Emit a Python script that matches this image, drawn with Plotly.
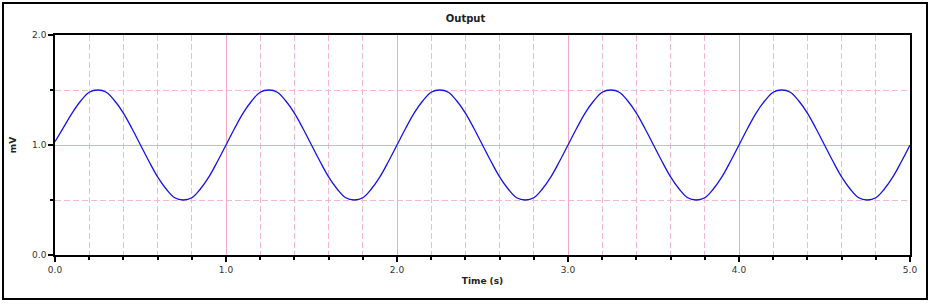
import plotly.graph_objects as go

t_start = 0.0
t_step = 0.05
output_mv = [
    1.03, 1.16, 1.29, 1.40, 1.48, 1.50, 1.48, 1.40, 1.29, 1.15,
    1.00, 0.85, 0.71, 0.60, 0.52, 0.50, 0.52, 0.60, 0.71, 0.85,
    1.00, 1.15, 1.29, 1.40, 1.48, 1.50, 1.48, 1.40, 1.29, 1.15,
    1.00, 0.85, 0.71, 0.60, 0.52, 0.50, 0.52, 0.60, 0.71, 0.85,
    1.00, 1.15, 1.29, 1.40, 1.48, 1.50, 1.48, 1.40, 1.29, 1.15,
    1.00, 0.85, 0.71, 0.60, 0.52, 0.50, 0.52, 0.60, 0.71, 0.85,
    1.00, 1.15, 1.29, 1.40, 1.48, 1.50, 1.48, 1.40, 1.29, 1.15,
    1.00, 0.85, 0.71, 0.60, 0.52, 0.50, 0.52, 0.60, 0.71, 0.85,
    1.00, 1.15, 1.29, 1.40, 1.48, 1.50, 1.48, 1.40, 1.29, 1.15,
    1.00, 0.85, 0.71, 0.60, 0.52, 0.50, 0.52, 0.60, 0.71, 0.85,
    1.00,
]

x_tickvals = [0, 1, 2, 3, 4, 5]
x_ticktext = ["0.0", "1.0", "2.0", "3.0", "4.0", "5.0"]
x_minor = [0.2, 0.4, 0.6, 0.8, 1.2, 1.4, 1.6, 1.8, 2.2, 2.4, 2.6, 2.8,
           3.2, 3.4, 3.6, 3.8, 4.2, 4.4, 4.6, 4.8]
y_tickvals = [0, 1, 2]
y_ticktext = ["0.0", "1.0", "2.0"]
y_minor = [0.5, 1.5]

PINK = "#f4b8ca"
MAJOR_PINK = "#f2a9bf"
FONT = "DejaVu Sans"

fig = go.Figure()
fig.add_trace(go.Scatter(
    x0=t_start, dx=t_step, y=output_mv,
    mode="lines", line=dict(color="#1414e6", width=1.3, shape="spline"),
    hoverinfo="skip", showlegend=False,
))

axis_common = dict(
    showline=True, linecolor="black", linewidth=1.5, mirror=True,
    ticks="outside", tickcolor="black", tickwidth=1.5, ticklen=5,
    showgrid=True, gridcolor=MAJOR_PINK, gridwidth=1, zeroline=False,
    tickfont=dict(family=FONT, size=9, color="#333333"),
)

fig.update_layout(
    width=931, height=304,
    margin=dict(l=55, r=21, t=35, b=49),
    paper_bgcolor="white", plot_bgcolor="white",
    title=dict(text="<b>Output</b>", x=0.5, xref="container", xanchor="center",
               y=1 - 18 / 304, yref="container", yanchor="middle",
               font=dict(family=FONT, size=10, color="#222222")),
    xaxis=dict(
        range=[0, 5], tickvals=x_tickvals, ticktext=x_ticktext,
        title=dict(text="<b>Time (s)</b>", standoff=4,
                   font=dict(family=FONT, size=9, color="#222222")),
        minor=dict(tickvals=x_minor, showgrid=True, gridcolor=PINK,
                   griddash="6px,3px", gridwidth=1, ticks="outside",
                   ticklen=3, tickcolor="black", tickwidth=1.5),
        **axis_common,
    ),
    yaxis=dict(
        range=[0, 2], tickvals=y_tickvals, ticktext=y_ticktext,
        title=dict(text="<b>mV</b>", standoff=14,
                   font=dict(family=FONT, size=9, color="#222222")),
        minor=dict(tickvals=y_minor, showgrid=True, gridcolor=PINK,
                   griddash="6px,3px", gridwidth=1, ticks="outside",
                   ticklen=3, tickcolor="black", tickwidth=1.5),
        **axis_common,
    ),
)

# Outer frame around the whole chart
fig.add_shape(type="rect", xref="paper", yref="paper",
              x0=(3 - 55) / 855, x1=(927 - 55) / 855,
              y0=(255 - 299) / 220, y1=(255 - 3) / 220,
              line=dict(color="black", width=2), fillcolor="rgba(0,0,0,0)",
              layer="above")

fig.write_html("out.html")
